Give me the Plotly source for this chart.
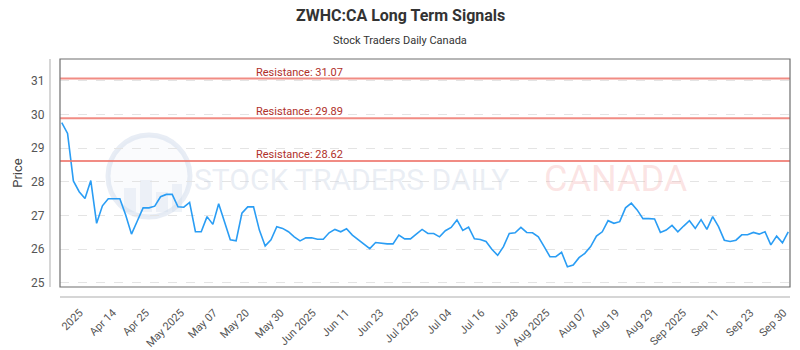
import plotly.graph_objects as go

# ---- data ----
prices = [
    29.76, 29.44, 28.03, 27.71, 27.51, 28.04, 26.77, 27.29, 27.50, 27.50,
    27.50, 27.02, 26.45, 26.84, 27.23, 27.23, 27.28, 27.56, 27.63, 27.63,
    27.26, 27.25, 27.39, 26.52, 26.52, 26.97, 26.74, 27.35, 26.82, 26.28,
    26.25, 27.07, 27.26, 27.26, 26.57, 26.10, 26.28, 26.67, 26.62, 26.52,
    26.37, 26.25, 26.34, 26.34, 26.30, 26.30, 26.49, 26.59, 26.52, 26.61,
    26.42, 26.28, 26.16, 26.02, 26.20, 26.17, 26.16, 26.16, 26.42, 26.31,
    26.31, 26.45, 26.59, 26.47, 26.47, 26.37, 26.55, 26.65, 26.87, 26.56,
    26.66, 26.31, 26.29, 26.23, 26.00, 25.82, 26.08, 26.47, 26.49, 26.65,
    26.50, 26.49, 26.37, 26.08, 25.78, 25.78, 25.91, 25.48, 25.53, 25.75,
    25.88, 26.08, 26.39, 26.52, 26.85, 26.77, 26.82, 27.23, 27.37, 27.17,
    26.91, 26.91, 26.90, 26.50, 26.57, 26.71, 26.52, 26.69, 26.85, 26.62,
    26.88, 26.59, 26.97, 26.67, 26.27, 26.23, 26.27, 26.43, 26.43, 26.50,
    26.45, 26.52, 26.13, 26.39, 26.19, 26.52,
]
tick_labels = [
    "2025", "Apr 14", "Apr 25", "May 2025", "May 07", "May 20", "May 30",
    "Jun 2025", "Jun 11", "Jun 23", "Jul 2025", "Jul 04", "Jul 16", "Jul 28",
    "Aug 2025", "Aug 07", "Aug 19", "Aug 29", "Sep 2025", "Sep 11", "Sep 23",
    "Sep 30",
]
tick_positions = [
    3.1, 8.8, 14.5, 20.5, 26.2, 31.7, 37.7, 43.2, 48.9, 54.8, 60.8,
    66.5, 72.2, 78.0, 83.4, 89.7, 95.4, 101.2, 106.9, 112.5, 118.5, 124.2,
]
resistance_levels = [31.07, 29.89, 28.62]
y_ticks = [25, 26, 27, 28, 29, 30, 31]

x_vals = list(range(len(prices)))

PW, PH = 730, 228  # plot area size in px
def px_x(x):
    return (x - 60) / PW
def px_y(y):
    return (287 - y) / PH

fig = go.Figure()
fig.add_trace(go.Scatter(
    x=x_vals, y=prices, mode="lines",
    line=dict(color="#2a9df4", width=1.6),
    hoverinfo="skip", showlegend=False,
))

shapes = []
annotations = []

# watermark logo
shapes.append(dict(type="circle", xref="paper", yref="paper",
                   x0=px_x(108), x1=px_x(190), y0=px_y(217), y1=px_y(135),
                   line=dict(color="rgba(205,215,232,0.45)", width=5),
                   fillcolor="rgba(235,240,248,0.25)", layer="below"))
for bx0, bx1, btop in [(124, 136, 188), (140, 152, 180), (156, 168, 192), (172, 182, 184)]:
    shapes.append(dict(type="rect", xref="paper", yref="paper",
                       x0=px_x(bx0), x1=px_x(bx1), y0=px_y(212), y1=px_y(btop),
                       line=dict(width=0), fillcolor="rgba(210,220,235,0.35)",
                       layer="below"))
annotations.append(dict(text="STOCK TRADERS DAILY", xref="paper", yref="paper",
                        x=px_x(192), y=px_y(179),
                        xanchor="left", yanchor="middle", showarrow=False,
                        font=dict(family="Roboto", size=30,
                                  color="rgba(200,210,228,0.38)")))
annotations.append(dict(text="CANADA", xref="paper", yref="paper",
                        x=px_x(542), y=px_y(179),
                        xanchor="left", yanchor="middle", showarrow=False,
                        font=dict(family="Roboto", size=36,
                                  color="rgba(245,170,170,0.33)")))

for lvl in resistance_levels:
    shapes.append(dict(type="line", xref="paper", yref="y", x0=0, x1=1,
                       y0=lvl, y1=lvl,
                       line=dict(color="rgba(238,120,110,0.85)", width=2)))
    annotations.append(dict(text=f"Resistance: {lvl:.2f}", xref="x", yref="y",
                            x=33.0, y=lvl, xanchor="left", yanchor="bottom",
                            showarrow=False, yshift=-2,
                            font=dict(family="Roboto", size=11, color="#b0302a")))

# titles
annotations.append(dict(text="<b>ZWHC:CA Long Term Signals</b>", xref="paper", yref="paper",
                        x=px_x(400), y=px_y(16), xanchor="center", yanchor="middle",
                        showarrow=False,
                        font=dict(family="Roboto", size=16, color="#333333")))
annotations.append(dict(text="Stock Traders Daily Canada", xref="paper", yref="paper",
                        x=px_x(400), y=px_y(40), xanchor="center", yanchor="middle",
                        showarrow=False,
                        font=dict(family="Roboto", size=11, color="#333333")))

# plot frame
shapes.append(dict(type="rect", xref="paper", yref="paper", x0=0, x1=1, y0=0, y1=1,
                   line=dict(color="#6e6e6e", width=1.2)))
# offset axis lines
shapes.append(dict(type="line", xref="paper", yref="paper",
                   x0=px_x(50), x1=px_x(50), y0=0, y1=1,
                   line=dict(color="#c8c8c8", width=1.5)))
shapes.append(dict(type="line", xref="paper", yref="paper",
                   x0=0, x1=1, y0=px_y(297), y1=px_y(297),
                   line=dict(color="#c8c8c8", width=1.5)))

fig.update_layout(
    width=800, height=350,
    margin=dict(l=60, r=10, t=59, b=63, autoexpand=False),
    paper_bgcolor="white", plot_bgcolor="white",
    shapes=shapes, annotations=annotations,
    xaxis=dict(range=[-0.3, len(prices) - 0.7], tickmode="array",
               tickvals=tick_positions, ticktext=tick_labels, tickangle=-45,
               ticks="outside", ticklen=14, tickcolor="rgba(0,0,0,0)",
               showgrid=False, zeroline=False, showline=False, automargin=False,
               tickfont=dict(family="Roboto", size=11, color="#555555")),
    yaxis=dict(range=[24.88, 31.65], tickmode="array", tickvals=y_ticks,
               ticks="outside", ticklen=12, tickcolor="rgba(0,0,0,0)",
               showgrid=True, gridcolor="#e4e4e4", griddash="dash", gridwidth=1,
               zeroline=False, showline=False, automargin=False,
               title=dict(text="Price", standoff=5,
                          font=dict(family="Roboto", size=13, color="#444444")),
               tickfont=dict(family="Roboto", size=12, color="#555555")),
)

fig.write_html("out.html")
